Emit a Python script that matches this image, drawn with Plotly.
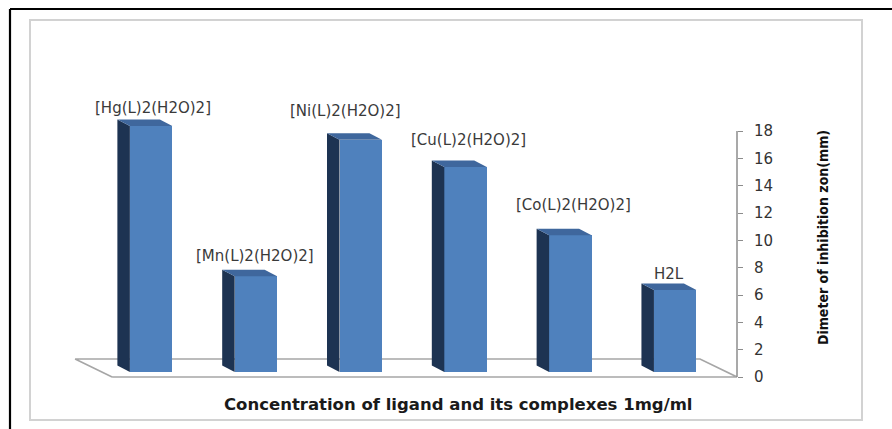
import plotly.graph_objects as go

# ---- data -------------------------------------------------------------
categories = ["[Hg(L)2(H2O)2]", "[Mn(L)2(H2O)2]", "[Ni(L)2(H2O)2]",
              "[Cu(L)2(H2O)2]", "[Co(L)2(H2O)2]", "H2L"]
inhibition_mm = [18, 7, 17, 15, 10, 6]
y_ticks = [0, 2, 4, 6, 8, 10, 12, 14, 16, 18]

# ---- geometry / style -------------------------------------------------
W, H = 892, 429
M = dict(l=40, r=155, t=90, b=44)
X_RANGE = [-1.06, 5.59]
Y_RANGE = [-0.585, 21.0]

plot_w = W - M["l"] - M["r"]
plot_h = H - M["t"] - M["b"]
sx = plot_w / (X_RANGE[1] - X_RANGE[0])   # px per category step
sy = plot_h / (Y_RANGE[1] - Y_RANGE[0])   # px per mm

BAR_W = 0.405
BAR_DEPTH_PX = (12.5, 6.5)     # oblique depth of each column (left, up)
BAR_LIFT_PX = 5.0              # columns stand a little behind the floor's front edge
FLOOR_DEPTH_PX = (37.0, 18.0)
FLOOR_LEFT = -0.372

FRONT = "#4f81bd"
SIDE = "#1d3352"
TOP = "#3f679d"
FLOOR_LINE = "#a6a6a6"

# per-label nudges (px)
label_dx = [2, -1, -15, 3, 3, -6]
label_dy = [18, 20, 29, 27, 30, 16]

bdx, bdy = BAR_DEPTH_PX[0] / sx, BAR_DEPTH_PX[1] / sy
fdx, fdy = FLOOR_DEPTH_PX[0] / sx, FLOOR_DEPTH_PX[1] / sy
lift = BAR_LIFT_PX / sy


def px_x(px):
    return (px - M["l"]) / plot_w


def px_y(py):
    return 1 - (py - M["t"]) / plot_h


fig = go.Figure()

# floor of the 3-D plot
fx0, fx1 = FLOOR_LEFT, X_RANGE[1]
fig.add_trace(go.Scatter(
    x=[fx0, fx1, fx1 - fdx, fx0 - fdx, fx0],
    y=[0, 0, fdy, fdy, 0],
    mode="lines", line=dict(color=FLOOR_LINE, width=1.6),
    hoverinfo="skip", showlegend=False, xaxis="x", yaxis="y"))

xs = list(range(len(categories)))

# front faces of the columns
fig.add_trace(go.Bar(
    x=xs, y=inhibition_mm, width=BAR_W,
    marker=dict(color=FRONT, line=dict(width=0)),
    customdata=categories,
    hovertemplate="%{customdata}: %{y} mm<extra></extra>",
    showlegend=False, xaxis="x", yaxis="y2"))

# side and top faces of the columns
for i, v in zip(xs, inhibition_mm):
    x0 = i - BAR_W / 2
    x1 = i + BAR_W / 2
    fig.add_trace(go.Scatter(
        x=[x0, x0, x0 - bdx, x0 - bdx, x0],
        y=[0, v, v + bdy, bdy, 0],
        fill="toself", fillcolor=SIDE, mode="lines",
        line=dict(width=0, color=SIDE),
        hoverinfo="skip", showlegend=False, xaxis="x", yaxis="y2"))
    fig.add_trace(go.Scatter(
        x=[x0, x1, x1 - bdx, x0 - bdx, x0],
        y=[v, v, v + bdy, v + bdy, v],
        fill="toself", fillcolor=TOP, mode="lines",
        line=dict(width=0, color=TOP),
        hoverinfo="skip", showlegend=False, xaxis="x", yaxis="y2"))

# category labels above the columns
for i, (name, v) in enumerate(zip(categories, inhibition_mm)):
    fig.add_annotation(
        x=i, y=v, xref="x", yref="y2", text=name, showarrow=False,
        xanchor="center", yanchor="middle",
        xshift=label_dx[i], yshift=label_dy[i],
        font=dict(family="DejaVu Sans", size=15, color="#3a3a3a"))

# x-axis caption
fig.add_annotation(
    x=px_x(458), y=px_y(404), xref="paper", yref="paper",
    text="Concentration of ligand and its complexes 1mg/ml",
    showarrow=False, xanchor="center", yanchor="middle",
    font=dict(family="DejaVu Sans", size=16.5, color="#1a1a1a", weight="bold"))

# value axis line (0 .. 18 only)
fig.add_shape(type="line", xref="paper", yref="y", x0=1, x1=1,
              y0=y_ticks[0], y1=y_ticks[-1],
              line=dict(color="#8c8c8c", width=1.5))

# chart frame
fig.add_shape(type="rect", xref="paper", yref="paper",
              x0=px_x(30), x1=px_x(862), y0=px_y(420), y1=px_y(20),
              line=dict(color="#d2d2d2", width=2), layer="below")
fig.add_shape(type="line", xref="paper", yref="paper",
              x0=px_x(10), x1=px_x(W + 2), y0=px_y(9), y1=px_y(9),
              line=dict(color="#000000", width=2.2))
fig.add_shape(type="line", xref="paper", yref="paper",
              x0=px_x(10), x1=px_x(10), y0=px_y(9), y1=px_y(H + 2),
              line=dict(color="#000000", width=2.2))

fig.update_layout(
    width=W, height=H, margin=M,
    paper_bgcolor="white", plot_bgcolor="white",
    showlegend=False, bargap=0,
    xaxis=dict(range=X_RANGE, visible=False, fixedrange=True),
    yaxis=dict(
        range=Y_RANGE, side="right", anchor="x",
        tickvals=y_ticks, ticktext=[str(t) for t in y_ticks],
        ticks="outside", ticklen=5, tickcolor="#8c8c8c", tickwidth=1.2,
        ticklabelstandoff=8,
        tickfont=dict(family="DejaVu Sans", size=15, color="#333333"),
        showgrid=False, zeroline=False, showline=False,
        title=dict(text="Dimeter of inhibition zon(mm)", standoff=46,
                   font=dict(family="Liberation Sans Narrow, DejaVu Sans Condensed, sans-serif",
                             size=14, color="#111111", weight="bold")),
        automargin=False),
    yaxis2=dict(range=[Y_RANGE[0] - lift, Y_RANGE[1] - lift],
                overlaying="y", side="right", visible=False),
)

fig.write_html("out.html")
